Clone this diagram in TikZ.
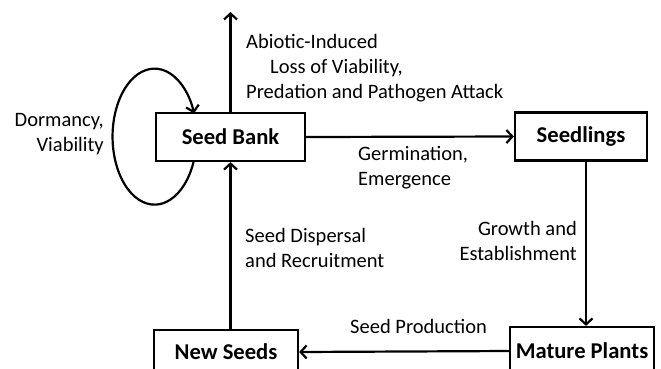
\documentclass[tikz,border=0pt]{standalone}
\usepackage{fontspec}
\setmainfont{Carlito}
\usetikzlibrary{arrows.meta}

\begin{document}
\begin{tikzpicture}[
    x=1pt, y=1pt,
    stage/.style={
      draw=black, line width=2.2pt, fill=white,
      inner sep=0pt, minimum height=48pt,
      font=\fontsize{22.6}{26}\selectfont\bfseries,
    },
    flow/.style={line width=2.2pt, -{Straight Barb[length=6pt,width=13pt]}},
    lbl/.style={font=\fontsize{20.5}{25}\selectfont, inner sep=0pt},
  ]
  \clip (0,0) rectangle (661,-368);

  % ===== stages =====
  \node[stage, minimum width=149pt] (sbank) at (230.5,-137) {Seed Bank};
  \node[stage, minimum width=132pt] (seedl) at (581,-136.5) {Seedlings};
  \node[stage, minimum width=144pt, minimum height=44pt] (newseeds) at (226,-352) {New Seeds};
  \node[stage, minimum width=144pt] (mature) at (582,-351) {Mature Plants};
  \coordinate (lossend) at (230.5,-12);

  % ===== transitions =====
  \draw[flow] (sbank.north) -- (lossend);
  \draw[flow] (sbank.east) -- (seedl.west);
  \draw[flow] ([xshift=5pt]seedl.south) -- ([xshift=5pt]seedl.south |- mature.north);
  \draw[flow] (mature.west) -- (newseeds.east);
  \draw[flow] (newseeds.north -| sbank.south) -- (sbank.south);
  \draw[flow] ([xshift=-37pt]sbank.south)
    arc[start angle=-22, end angle=-340, x radius=42, y radius=68];

  % ===== labels (base = last line) =====
  \node[lbl, anchor=base west, align=left] (abiotic) at (246,-98)
    {Abiotic-Induced\\\hspace*{24pt}Loss of Viability,\\Predation and Pathogen Attack};
  \node[lbl, anchor=base east, align=right] (dorm) at (104,-151) {Dormancy,\\Viability};
  \node[lbl, anchor=base west, align=left] (germ) at (358,-185) {Germination,\\Emergence};
  \node[lbl, anchor=base west, align=left] (disp) at (245,-267) {Seed Dispersal\\and Recruitment};
  \node[lbl, anchor=base east, align=right] (growth) at (577,-260) {Growth and\\Establishment};
  \node[lbl, anchor=base west] (prod) at (350,-333) {Seed Production};
\end{tikzpicture}
\end{document}
